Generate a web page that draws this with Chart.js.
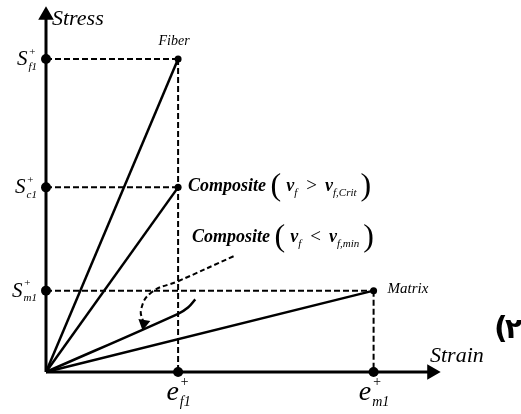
<!DOCTYPE html>
<html>
<head>
<meta charset="utf-8">
<script src="https://cdn.jsdelivr.net/npm/chart.js@4/dist/chart.umd.min.js"></script>
<style>
  html, body { margin: 0; padding: 0; background: #fff; }
  #wrap { width: 521px; height: 414px; }
</style>
</head>
<body>
<div id="wrap"><canvas id="chart" width="521" height="414"></canvas></div>
<script>
// strain ticks (e_f1, e_m1) and stress ticks (S_f1, S_c1, S_m1), arbitrary units
const strainTicks = [1.0, 2.48];
const strainSubs = ['f1', 'm1'];
const stressTicks = [1.0, 0.59, 0.26];
const stressSubs = ['f1', 'c1', 'm1'];

const xMax = 2.96;
const yMax = 1.16;

// curves
const fiberLine = [[0, 0], [1.0, 1.0]];
const compositeHigh = [[0, 0], [1.0, 0.59]];
const matrixLine = [[0, 0], [2.48, 0.26]];
const compositeLow = [[0, 0], [1.0, 0.186], [1.075, 0.206], [1.13, 0.232]];
const hintArrow = [[1.42, 0.37], [1.0, 0.29], [0.8, 0.255], [0.72, 0.2], [0.74, 0.155]];

const toPts = arr => arr.map(([x, y]) => ({ x, y }));

function solid(data, w) {
    return { data: toPts(data), showLine: true, borderColor: '#000', borderWidth: w || 2.5,
             pointRadius: 0, tension: 0, clip: false };
}
function dashed(data) {
    return { data: toPts(data), showLine: true, borderColor: '#000', borderWidth: 2,
             borderDash: [6, 3], pointRadius: 0, clip: false };
}

const datasets = [];
// guides
stressTicks.forEach((s, i) => {
    const xEnd = i === 2 ? strainTicks[1] : strainTicks[0];
    datasets.push(dashed([[0, s], [xEnd, s]]));
});
datasets.push(dashed([[strainTicks[0], stressTicks[0]], [strainTicks[0], 0]]));
datasets.push(dashed([[strainTicks[1], stressTicks[2]], [strainTicks[1], 0]]));
// curves
datasets.push(solid(fiberLine));
datasets.push(solid(compositeHigh));
datasets.push(solid(matrixLine));
const low = solid(compositeLow);
low.tension = 0.4;
datasets.push(low);
// hint arrow
const hint = dashed(hintArrow);
hint.tension = 0.45;
hint.borderDash = [5, 3];
hint.pointStyle = 'triangle';
hint.pointRadius = hintArrow.map((p, i) => i === hintArrow.length - 1 ? 5 : 0);
hint.pointRotation = 190;
hint.pointBackgroundColor = '#000';
datasets.push(hint);
// axes
datasets.push({ data: toPts([[0, 0], [xMax - 0.04, 0]]), showLine: true, borderColor: '#000', borderWidth: 3,
    pointStyle: 'triangle', pointRadius: [0, 6], pointRotation: 90, pointBackgroundColor: '#000', clip: false });
datasets.push({ data: toPts([[0, 0], [0, yMax - 0.02]]), showLine: true, borderColor: '#000', borderWidth: 3,
    pointStyle: 'triangle', pointRadius: [0, 6], pointRotation: 0, pointBackgroundColor: '#000', clip: false });
// tick dots
datasets.push({ data: stressTicks.map(s => ({ x: 0, y: s })).concat(strainTicks.map(e => ({ x: e, y: 0 }))),
    pointRadius: 5, pointBackgroundColor: '#000', pointBorderWidth: 0, clip: false });
// end points
datasets.push({ data: toPts([fiberLine[1], compositeHigh[1], matrixLine[1]]),
    pointRadius: 3.5, pointBackgroundColor: '#000', pointBorderWidth: 0, clip: false });

const serif = '"Liberation Serif", "Times New Roman", serif';

function scriptText(ctx, x, y, main, sub, sup, size, align) {
    ctx.font = 'italic ' + size + 'px ' + serif;
    const mw = ctx.measureText(main).width;
    const small = Math.round(size * 0.5);
    ctx.font = 'italic ' + small + 'px ' + serif;
    const sw = Math.max(ctx.measureText(sub).width, ctx.measureText(sup).width);
    let x0 = x;
    if (align === 'right') x0 = x - mw - sw;
    if (align === 'center') x0 = x - (mw + sw) / 2;
    ctx.font = 'italic ' + size + 'px ' + serif;
    ctx.fillText(main, x0, y);
    ctx.font = 'italic ' + small + 'px ' + serif;
    ctx.fillText(sub, x0 + mw + 1, y + size * 0.22);
    ctx.fillText(sup, x0 + mw + 1, y - size * 0.5);
}

function runs(ctx, x, y, parts) {
    let cx = x;
    parts.forEach(p => {
        ctx.font = p.f;
        ctx.fillText(p.t, cx, y + (p.dy || 0));
        cx += ctx.measureText(p.t).width + (p.gap || 0);
    });
}

function compositeLabel(ctx, x, y, sign, subText) {
    const bi = 'bold italic 18px ' + serif;
    const sm = 'italic 11px ' + serif;
    const par = '32px ' + serif;
    runs(ctx, x, y, [
        { t: 'Composite ', f: bi },
        { t: '(', f: par, dy: 4, gap: 5 },
        { t: 'v', f: bi },
        { t: 'f', f: sm, dy: 5, gap: 9 },
        { t: sign, f: '19px ' + serif, gap: 8 },
        { t: 'v', f: bi },
        { t: subText, f: sm, dy: 5, gap: 4 },
        { t: ')', f: par, dy: 4 }
    ]);
}

const labelPlugin = {
    id: 'labels',
    afterDraw(chart) {
        const ctx = chart.ctx;
        const xs = chart.scales.x, ys = chart.scales.y;
        ctx.save();
        ctx.fillStyle = '#000';
        ctx.textBaseline = 'alphabetic';
        ctx.textAlign = 'left';
        // tick labels
        stressTicks.forEach((s, i) => {
            scriptText(ctx, xs.getPixelForValue(0) - 10, ys.getPixelForValue(s) + 6, 'S', stressSubs[i], '+', 21, 'right');
        });
        strainTicks.forEach((e, i) => {
            scriptText(ctx, xs.getPixelForValue(e), ys.getPixelForValue(0) + 28, 'e', strainSubs[i], '+', 28, 'center');
        });
        // axis titles
        ctx.font = 'italic 22px ' + serif;
        ctx.fillText('Stress', 52, 25);
        ctx.fillText('Strain', 430, 362);
        // curve labels
        ctx.font = 'italic 14px ' + serif;
        ctx.textAlign = 'center';
        ctx.fillText('Fiber', xs.getPixelForValue(fiberLine[1][0]) - 4, ys.getPixelForValue(fiberLine[1][1]) - 14);
        ctx.textAlign = 'left';
        ctx.font = 'italic 15px ' + serif;
        ctx.fillText('Matrix', xs.getPixelForValue(matrixLine[1][0]) + 14, ys.getPixelForValue(matrixLine[1][1]) + 2);
        compositeLabel(ctx, xs.getPixelForValue(compositeHigh[1][0]) + 10, ys.getPixelForValue(compositeHigh[1][1]) + 4, '>', 'f,Crit');
        compositeLabel(ctx, 192, 242, '<', 'f,min');
        // equation number
        ctx.font = 'bold 30px "DejaVu Sans", sans-serif';
        ctx.fillText('(', 494, 338);
        ctx.font = 'bold 28px "DejaVu Sans", sans-serif';
        ctx.fillText('\u06F2', 505, 338);
        ctx.restore();
    }
};

new Chart(document.getElementById('chart'), {
    type: 'scatter',
    data: { datasets },
    options: {
        responsive: false,
        animation: false,
        layout: { padding: { left: 46, top: 5, right: 84, bottom: 42 } },
        scales: {
            x: { type: 'linear', min: 0, max: xMax, display: false },
            y: { type: 'linear', min: 0, max: yMax, display: false }
        },
        plugins: { legend: { display: false }, tooltip: { enabled: false } }
    },
    plugins: [labelPlugin]
});
</script>
</body>
</html>
